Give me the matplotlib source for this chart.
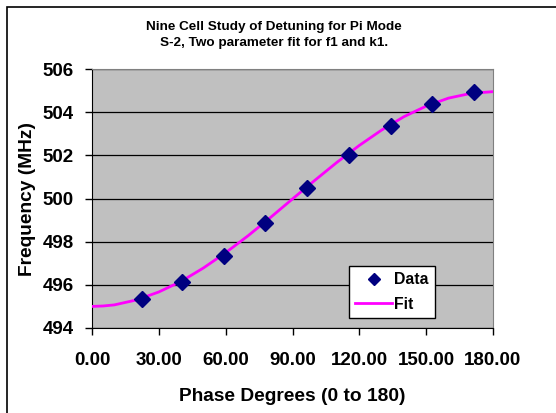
import matplotlib.pyplot as plt
from matplotlib.patches import Rectangle

plt.rcParams['font.family'] = ['Liberation Sans', 'DejaVu Sans']
plt.rcParams['font.weight'] = 'bold'

# measured points
phase = [22.4, 40.4, 59.2, 77.6, 96.5, 115.3, 134.2, 152.6, 171.4]
freq = [495.35, 496.12, 497.35, 498.85, 500.50, 502.00, 503.37, 504.37, 504.92]

# fitted curve
fit_phase = [0, 5, 10, 20, 30, 40, 50, 60, 70, 80, 90, 100, 110, 120, 130, 140, 150, 160, 170, 180]
fit_freq = [495.00, 495.02, 495.07, 495.30, 495.67, 496.16, 496.78, 497.49, 498.27, 499.11,
            499.98, 500.84, 501.68, 502.46, 503.17, 503.79, 504.28, 504.65, 504.87, 504.95]

x_ticks = [0, 30, 60, 90, 120, 150, 180]
y_ticks = [494, 496, 498, 500, 502, 504, 506]

fig = plt.figure(figsize=(5.56, 4.13), dpi=100)
ax = fig.add_axes([92 / 556, 1 - 328 / 413, (493 - 92) / 556, (328 - 69) / 413])

# outer chart frame
fig.patches.append(Rectangle((7 / 556, -0.05), 1.1, 1 - 7 / 413 + 0.05, transform=fig.transFigure,
                             fill=False, edgecolor='black', linewidth=1.2))

ax.set_facecolor('#C0C0C0')
ax.plot(fit_phase, fit_freq, color='#FF00FF', linewidth=2, label='Fit', zorder=3)
ax.plot(phase, freq, linestyle='none', marker='D', markersize=8, color='#000080', label='Data', zorder=4)

ax.set_xlim(0, 180)
ax.set_ylim(494, 506)
ax.set_xticks(x_ticks)
ax.set_xticklabels([f'{v:.2f}' for v in x_ticks])
ax.set_yticks(y_ticks)
ax.yaxis.grid(True, color='black', linewidth=0.9)
ax.set_axisbelow(True)
ax.tick_params(axis='both', direction='out', length=5, width=1, labelsize=13.5)
ax.tick_params(axis='x', pad=12)
ax.tick_params(axis='y', pad=8)
for s in ['top', 'right']:
    ax.spines[s].set_color('#808080')
for s in ['left', 'bottom']:
    ax.spines[s].set_color('black')

ax.set_xlabel('Phase Degrees (0 to 180)', fontsize=13.8, fontweight='bold', labelpad=14)
ax.set_ylabel('Frequency (MHz)', fontsize=13.8, fontweight='bold', labelpad=5)

fig.text(0.5 - 4 / 556, 1 - 35 / 413, 'Nine Cell Study of Detuning for Pi Mode\nS-2, Two parameter fit for f1 and k1.',
         ha='center', va='center', fontsize=9.7, fontweight='bold', linespacing=1.35)

handles, labels = ax.get_legend_handles_labels()
leg = ax.legend(handles[::-1], labels[::-1], loc='upper left', bbox_to_anchor=((349 - 92) / 401, 1 - (266 - 69) / 259),
                fancybox=False, framealpha=1, edgecolor='black', fontsize=11.4, handlelength=2.3,
                handletextpad=0.15, borderpad=0.4, labelspacing=0.6, borderaxespad=0, markerscale=0.8)
leg.get_frame().set_linewidth(1)

fig.savefig('out.png', dpi=100)
